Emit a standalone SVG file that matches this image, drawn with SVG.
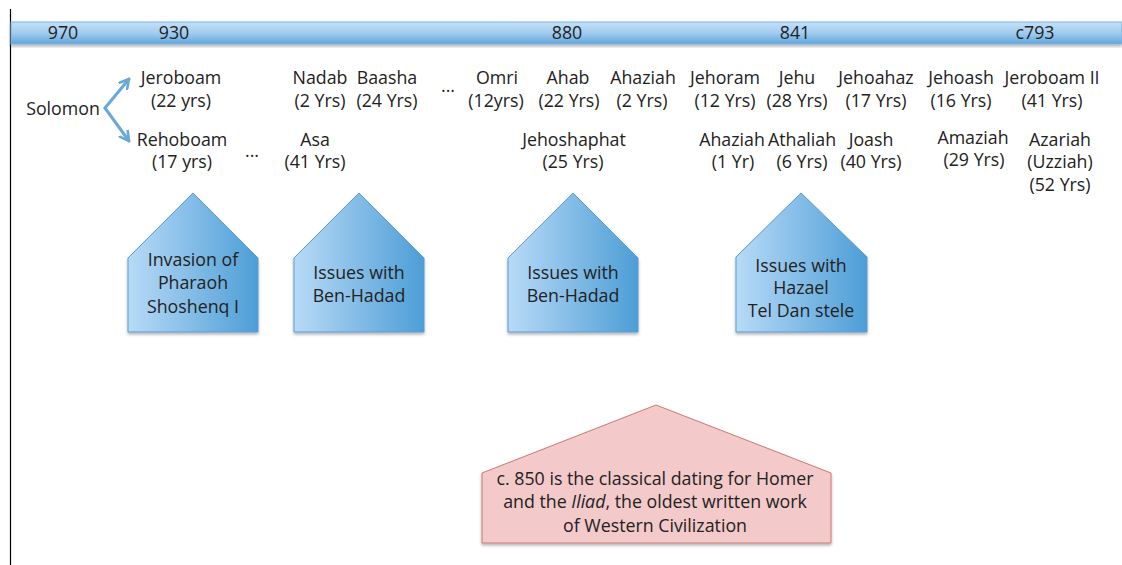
<svg xmlns="http://www.w3.org/2000/svg" width="1122" height="565" viewBox="0 0 1122 565">
<defs>
<linearGradient id="barGrad" x1="0" y1="0" x2="0" y2="1">
<stop offset="0" stop-color="#c4e0f7"/>
<stop offset="0.5" stop-color="#a2ccef"/>
<stop offset="1" stop-color="#5fa6dd"/>
</linearGradient>
<linearGradient id="houseGrad" x1="0" y1="0" x2="1" y2="0">
<stop offset="0" stop-color="#b8daf7"/>
<stop offset="1" stop-color="#4d9ed6"/>
</linearGradient>
<filter id="shadow" x="-10%" y="-10%" width="120%" height="125%">
<feDropShadow dx="0" dy="2" stdDeviation="1.5" flood-color="#000" flood-opacity="0.3"/>
</filter>
<marker id="arrow" viewBox="0 0 12 12" refX="10" refY="6" markerWidth="12" markerHeight="12" markerUnits="userSpaceOnUse" orient="auto">
<path d="M1,1 L10,6 L1,11" fill="none" stroke="#6aa8d8" stroke-width="2.6" stroke-linecap="round" stroke-linejoin="round"/>
</marker>
<style>
text { font-family: "Open Sans", "Liberation Sans", sans-serif; font-size: 17.8px; fill: #222; text-anchor: middle; }
.house { fill: url(#houseGrad); stroke: #5b9bd5; stroke-width: 1; filter: url(#shadow); }
.note { fill: #f3c9c9; stroke: #c77b79; stroke-width: 1; filter: url(#shadow); }
.conn { fill: none; stroke: #6aa8d8; stroke-width: 3; stroke-linecap: round; stroke-linejoin: round; }
</style>
</defs>
<rect width="1122" height="565" fill="#fff"/>
<line x1="10.5" y1="9" x2="10.5" y2="565" stroke="#000" stroke-width="1.2"/>

<g id="timeline">
<rect x="11" y="22" width="1111" height="22" fill="url(#barGrad)" stroke="#7db3e0" stroke-width="1" filter="url(#shadow)"/>
<text x="63" y="39">970</text>
<text x="174" y="39">930</text>
<text x="567" y="39">880</text>
<text x="795" y="39">841</text>
<text x="1035" y="39">c793</text>
</g>

<g id="connectors">
<path class="conn" d="M105,108 L129,79" marker-end="url(#arrow)"/>
<path class="conn" d="M105,108 L129,141" marker-end="url(#arrow)"/>
</g>

<g id="solomon"><text x="63" y="115">Solomon</text></g>

<g id="jeroboam"><text x="181" y="84">Jeroboam</text><text x="181" y="107">(22 yrs)</text></g>
<g id="nadab"><text x="320" y="84">Nadab</text><text x="320" y="107">(2 Yrs)</text></g>
<g id="baasha"><text x="387" y="84">Baasha</text><text x="387" y="107">(24 Yrs)</text></g>
<g id="ellipsis1"><text x="448" y="92">...</text></g>
<g id="omri"><text x="497" y="84">Omri</text><text x="496" y="107">(12yrs)</text></g>
<g id="ahab"><text x="568" y="84">Ahab</text><text x="569" y="107">(22 Yrs)</text></g>
<g id="ahaziah-israel"><text x="643" y="84">Ahaziah</text><text x="642" y="107">(2 Yrs)</text></g>
<g id="jehoram"><text x="725" y="84">Jehoram</text><text x="725" y="107">(12 Yrs)</text></g>
<g id="jehu"><text x="797" y="84">Jehu</text><text x="797" y="107">(28 Yrs)</text></g>
<g id="jehoahaz"><text x="876" y="84">Jehoahaz</text><text x="876" y="107">(17 Yrs)</text></g>
<g id="jehoash"><text x="961" y="84">Jehoash</text><text x="961" y="107">(16 Yrs)</text></g>
<g id="jeroboam2"><text x="1052" y="84">Jeroboam II</text><text x="1052" y="107">(41 Yrs)</text></g>

<g id="rehoboam"><text x="182" y="146">Rehoboam</text><text x="182" y="168">(17 yrs)</text></g>
<g id="ellipsis2"><text x="252" y="157">...</text></g>
<g id="asa"><text x="315" y="146">Asa</text><text x="315" y="168">(41 Yrs)</text></g>
<g id="jehoshaphat"><text x="574" y="146">Jehoshaphat</text><text x="573" y="168">(25 Yrs)</text></g>
<g id="ahaziah-judah"><text x="732" y="146">Ahaziah</text><text x="733" y="168">(1 Yr)</text></g>
<g id="athaliah"><text x="802" y="146">Athaliah</text><text x="802" y="168">(6 Yrs)</text></g>
<g id="joash"><text x="871" y="146">Joash</text><text x="871" y="168">(40 Yrs)</text></g>
<g id="amaziah"><text x="973" y="144">Amaziah</text><text x="974" y="166">(29 Yrs)</text></g>
<g id="azariah"><text x="1060" y="146">Azariah</text><text x="1060" y="168">(Uzziah)</text><text x="1060" y="191">(52 Yrs)</text></g>

<g id="event-shoshenq">
<polygon class="house" points="193,193 258,258 258,332 128,332 128,258"/>
<text x="193" y="266">Invasion of</text>
<text x="193" y="289">Pharaoh</text>
<text x="193" y="313">Shoshenq I</text>
</g>
<g id="event-benhadad1">
<polygon class="house" points="359,193 424,258 424,332 294,332 294,258"/>
<text x="359" y="279">Issues with</text>
<text x="359" y="302">Ben-Hadad</text>
</g>
<g id="event-benhadad2">
<polygon class="house" points="573,193 638,258 638,332 508,332 508,258"/>
<text x="573" y="279">Issues with</text>
<text x="573" y="302">Ben-Hadad</text>
</g>
<g id="event-hazael">
<polygon class="house" points="801,193 867,257 867,332 736,332 736,257"/>
<text x="801" y="272">Issues with</text>
<text x="801" y="294">Hazael</text>
<text x="801" y="317">Tel Dan stele</text>
</g>
<g id="event-homer">
<polygon class="note" points="656,405 831,473 831,543 482,543 482,473"/>
<text x="655" y="485">c. 850 is the classical dating for Homer</text>
<text x="655" y="508">and the <tspan font-style="italic">Iliad</tspan>, the oldest written work</text>
<text x="655" y="532">of Western Civilization</text>
</g>
</svg>
